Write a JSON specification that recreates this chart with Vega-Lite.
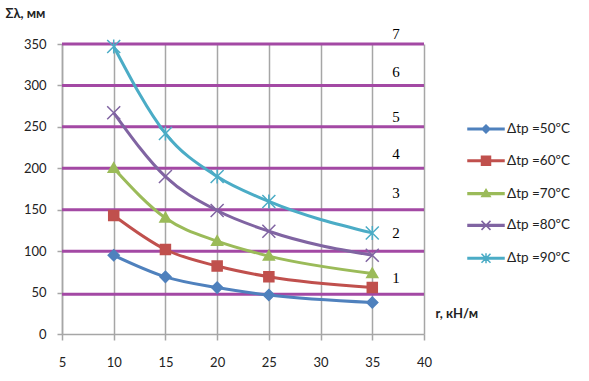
{
  "$schema": "https://vega.github.io/schema/vega-lite/v6.json",
  "width": 362,
  "height": 290,
  "autosize": {"type": "none"},
  "padding": {"left": 62, "top": 44, "right": 165, "bottom": 47},
  "background": "white",
  "config": {
    "view": {"stroke": null},
    "font": "Lato",
    "axis": {
      "domainColor": "#A6A6A6", "domainWidth": 1.5,
      "tickColor": "#A6A6A6", "tickWidth": 1.5, "tickSize": 5,
      "gridColor": "#A6A6A6", "gridWidth": 1.5,
      "labelFont": "Lato", "labelFontSize": 13, "labelColor": "#222",
      "titleFont": "Lato", "titleFontSize": 13, "titleFontWeight": "bold", "titleColor": "#222",
      "titleAngle": 0, "titleAlign": "left", "titleBaseline": "middle"
    },
    "axisX": {"grid": true, "tickCount": 8, "tickSize": 6, "labelPadding": 16, "titleX": 373, "titleY": -21, "labelFlush": false},
    "axisY": {"grid": false, "tickCount": 7, "labelPadding": 11, "titleX": -57, "titleY": -31},
    "legend": {
      "orient": "none", "legendX": 413, "legendY": 74,
      "symbolSize": 400, "symbolStrokeWidth": 1.5, "symbolOpacity": 1,
      "labelFont": "Lato", "labelFontSize": 13.5, "labelColor": "#222",
      "labelOffset": 10, "rowPadding": 13.8, "padding": 0
    }
  },
  "datasets": {
    "curves": [
      {"r": 10, "v": 95, "s": "Δtр =50ºC"},
      {"r": 15, "v": 69, "s": "Δtр =50ºC"},
      {"r": 20, "v": 56, "s": "Δtр =50ºC"},
      {"r": 25, "v": 47, "s": "Δtр =50ºC"},
      {"r": 35, "v": 38, "s": "Δtр =50ºC"},
      {"r": 10, "v": 143, "s": "Δtр =60ºC"},
      {"r": 15, "v": 102, "s": "Δtр =60ºC"},
      {"r": 20, "v": 82, "s": "Δtр =60ºC"},
      {"r": 25, "v": 69, "s": "Δtр =60ºC"},
      {"r": 35, "v": 56, "s": "Δtр =60ºC"},
      {"r": 10, "v": 200, "s": "Δtр =70ºC"},
      {"r": 15, "v": 140, "s": "Δtр =70ºC"},
      {"r": 20, "v": 112, "s": "Δtр =70ºC"},
      {"r": 25, "v": 94, "s": "Δtр =70ºC"},
      {"r": 35, "v": 73, "s": "Δtр =70ºC"},
      {"r": 10, "v": 267, "s": "Δtр =80ºC"},
      {"r": 15, "v": 190, "s": "Δtр =80ºC"},
      {"r": 20, "v": 149, "s": "Δtр =80ºC"},
      {"r": 25, "v": 124, "s": "Δtр =80ºC"},
      {"r": 35, "v": 95, "s": "Δtр =80ºC"},
      {"r": 10, "v": 347, "s": "Δtр =90ºC"},
      {"r": 15, "v": 242, "s": "Δtр =90ºC"},
      {"r": 20, "v": 190, "s": "Δtр =90ºC"},
      {"r": 25, "v": 160, "s": "Δtр =90ºC"},
      {"r": 35, "v": 122, "s": "Δtр =90ºC"}
    ],
    "levels": [
      {"v": 48}, {"v": 100}, {"v": 150}, {"v": 200}, {"v": 250}, {"v": 300}, {"v": 350}
    ],
    "nums": [
      {"r": 37.3, "v": 67, "t": "1"},
      {"r": 37.3, "v": 122, "t": "2"},
      {"r": 37.3, "v": 170, "t": "3"},
      {"r": 37.3, "v": 217, "t": "4"},
      {"r": 37.3, "v": 262, "t": "5"},
      {"r": 37.3, "v": 316, "t": "6"},
      {"r": 37.3, "v": 362, "t": "7"}
    ]
  },
  "layer": [
    {
      "data": {"name": "levels"},
      "mark": {"type": "rule", "color": "#A349A4", "strokeWidth": 3},
      "encoding": {
        "y": {"field": "v", "type": "quantitative", "title": "Σλ, мм", "scale": {"domain": [0, 350], "nice": false}}
      }
    },
    {
      "data": {"name": "nums"},
      "mark": {"type": "text", "font": "Liberation Serif", "fontSize": 15, "color": "#000"},
      "encoding": {
        "x": {"field": "r", "type": "quantitative", "title": "r, кН/м", "scale": {"domain": [5, 40], "nice": false}},
        "y": {"field": "v", "type": "quantitative", "title": "Σλ, мм"},
        "text": {"field": "t"}
      }
    },
    {
      "data": {"name": "curves"},
      "mark": {"type": "line", "strokeWidth": 3, "interpolate": "monotone"},
      "encoding": {
        "x": {"field": "r", "type": "quantitative", "title": "r, кН/м"},
        "y": {"field": "v", "type": "quantitative", "title": "Σλ, мм"},
        "color": {"field": "s", "type": "nominal", "legend": null,
          "scale": {"domain": ["Δtр =50ºC", "Δtр =60ºC", "Δtр =70ºC", "Δtр =80ºC", "Δtр =90ºC"],
                    "range": ["#4F81BD", "#C0504D", "#9BBB59", "#8064A2", "#4BACC6"]}}
      }
    },
    {
      "data": {"name": "curves"},
      "mark": {"type": "point", "filled": true, "opacity": 1, "size": 100, "strokeWidth": 1.5},
      "encoding": {
        "x": {"field": "r", "type": "quantitative", "title": "r, кН/м"},
        "y": {"field": "v", "type": "quantitative", "title": "Σλ, мм"},
        "fill": {"field": "s", "type": "nominal", "legend": null,
          "scale": {"domain": ["Δtр =50ºC", "Δtр =60ºC", "Δtр =70ºC", "Δtр =80ºC", "Δtр =90ºC"],
                    "range": ["#4F81BD", "#C0504D", "#9BBB59", "#8064A2", "#4BACC6"]}},
        "stroke": {"field": "s", "type": "nominal", "legend": null,
          "scale": {"domain": ["Δtр =50ºC", "Δtр =60ºC", "Δtр =70ºC", "Δtр =80ºC", "Δtр =90ºC"],
                    "range": ["#4F81BD", "#C0504D", "#9BBB59", "#8064A2", "#4BACC6"]}},
        "shape": {"field": "s", "type": "nominal", "legend": null,
          "scale": {"domain": ["Δtр =50ºC", "Δtр =60ºC", "Δtр =70ºC", "Δtр =80ºC", "Δtр =90ºC"],
                    "range": ["M0,-1.1L1.1,0L0,1.1L-1.1,0Z",
                              "M-1,-1L1,-1L1,1L-1,1Z",
                              "M0,-1.1L1.1,0.8L-1.1,0.8Z",
                              "M-1.3,-1.3L1.3,1.3M-1.3,1.3L1.3,-1.3",
                              "M-1.3,-1.3L1.3,1.3M-1.3,1.3L1.3,-1.3M0,-1.4L0,1.4"]}}
      }
    },
    {
      "data": {"name": "curves"},
      "transform": [{"filter": "false"}],
      "mark": {"type": "point", "filled": true, "opacity": 1, "strokeWidth": 1.5},
      "encoding": {
        "x": {"field": "r", "type": "quantitative", "title": "r, кН/м"},
        "y": {"field": "v", "type": "quantitative", "title": "Σλ, мм"},
        "fill": {"field": "s", "type": "nominal", "title": null,
          "scale": {"domain": ["Δtр =50ºC", "Δtр =60ºC", "Δtр =70ºC", "Δtр =80ºC", "Δtр =90ºC"],
                    "range": ["#4F81BD", "#C0504D", "#9BBB59", "#8064A2", "#4BACC6"]}},
        "stroke": {"field": "s", "type": "nominal", "title": null,
          "scale": {"domain": ["Δtр =50ºC", "Δtр =60ºC", "Δtр =70ºC", "Δtр =80ºC", "Δtр =90ºC"],
                    "range": ["#4F81BD", "#C0504D", "#9BBB59", "#8064A2", "#4BACC6"]}},
        "shape": {"field": "s", "type": "nominal", "title": null,
          "scale": {"domain": ["Δtр =50ºC", "Δtр =60ºC", "Δtр =70ºC", "Δtр =80ºC", "Δtр =90ºC"],
                    "range": ["M-1.8,-0.08L1.8,-0.08L1.8,0.08L-1.8,0.08ZM0,-0.4L0.4,0L0,0.4L-0.4,0Z",
                              "M-1.8,-0.08L1.8,-0.08L1.8,0.08L-1.8,0.08ZM-0.45,-0.45L0.45,-0.45L0.45,0.45L-0.45,0.45Z",
                              "M-1.8,-0.08L1.8,-0.08L1.8,0.08L-1.8,0.08ZM0,-0.42L0.42,0.3L-0.42,0.3Z",
                              "M-1.8,-0.08L1.8,-0.08L1.8,0.08L-1.8,0.08ZM-0.45,-0.45L0.45,0.45M-0.45,0.45L0.45,-0.45",
                              "M-1.8,-0.08L1.8,-0.08L1.8,0.08L-1.8,0.08ZM-0.45,-0.45L0.45,0.45M-0.45,0.45L0.45,-0.45M0,-0.5L0,0.5"]}}
      }
    }
  ],
  "resolve": {"scale": {"fill": "independent", "stroke": "independent", "shape": "independent"}}
}
